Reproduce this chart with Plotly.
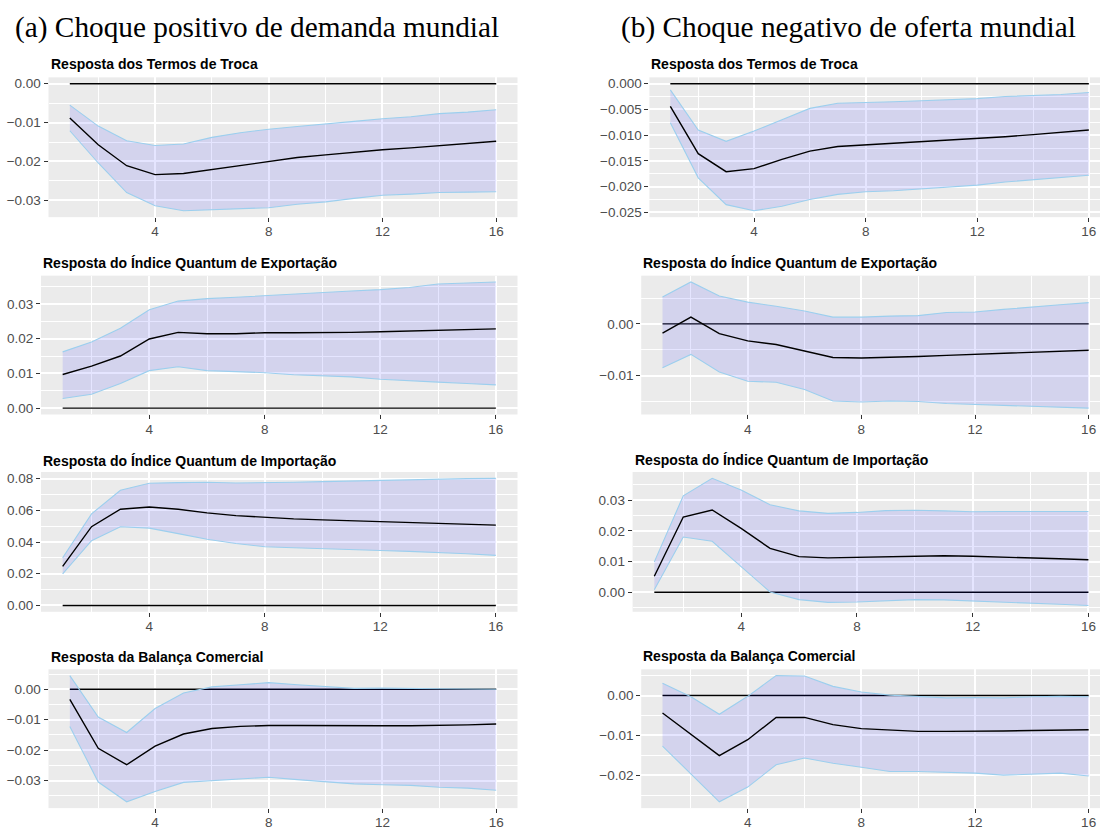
import plotly.graph_objects as go

horizon = list(range(1, 17))

# ---------------- (a) Choque positivo de demanda mundial ----------------
a_tt_mean = [-0.0088, -0.0157, -0.0211, -0.0234, -0.0231, -0.0221, -0.0211, -0.0200,
             -0.0190, -0.0183, -0.0176, -0.0170, -0.0165, -0.0159, -0.0154, -0.0148]
a_tt_upper = [-0.0055, -0.0109, -0.0147, -0.0159, -0.0155, -0.0138, -0.0126, -0.0117,
              -0.0110, -0.0104, -0.0097, -0.0090, -0.0085, -0.0077, -0.0073, -0.0067]
a_tt_lower = [-0.0121, -0.0204, -0.0280, -0.0314, -0.0327, -0.0324, -0.0322, -0.0319,
              -0.0310, -0.0304, -0.0295, -0.0287, -0.0284, -0.0280, -0.0279, -0.0278]

a_ex_mean = [0.0097, 0.0121, 0.0150, 0.0199, 0.0218, 0.0214, 0.0214, 0.0217,
             0.0217, 0.0217, 0.0218, 0.0220, 0.0222, 0.0224, 0.0225, 0.0228]
a_ex_upper = [0.0162, 0.0190, 0.0230, 0.0283, 0.0308, 0.0315, 0.0319, 0.0324,
              0.0328, 0.0332, 0.0337, 0.0341, 0.0347, 0.0357, 0.0361, 0.0363]
a_ex_lower = [0.0028, 0.0040, 0.0071, 0.0108, 0.0119, 0.0108, 0.0105, 0.0102,
              0.0096, 0.0092, 0.0090, 0.0083, 0.0080, 0.0075, 0.0071, 0.0067]

a_im_mean = [0.0247, 0.0497, 0.0607, 0.0621, 0.0607, 0.0584, 0.0567, 0.0555,
             0.0546, 0.0540, 0.0534, 0.0528, 0.0524, 0.0517, 0.0513, 0.0507]
a_im_upper = [0.0301, 0.0578, 0.0727, 0.0771, 0.0775, 0.0777, 0.0773, 0.0773,
              0.0777, 0.0781, 0.0785, 0.0792, 0.0794, 0.0798, 0.0800, 0.0802]
a_im_lower = [0.0199, 0.0409, 0.0497, 0.0488, 0.0453, 0.0418, 0.0391, 0.0370,
              0.0364, 0.0357, 0.0351, 0.0347, 0.0341, 0.0335, 0.0326, 0.0316]

a_bc_mean = [-0.0033, -0.0194, -0.0248, -0.0187, -0.0147, -0.0129, -0.0122, -0.0119,
             -0.0119, -0.0120, -0.0120, -0.0120, -0.0120, -0.0119, -0.0117, -0.0114]
a_bc_upper = [0.0045, -0.0091, -0.0142, -0.0063, -0.0012, 0.0008, 0.0015, 0.0022,
              0.0015, 0.0010, 0.0003, 0.0004, 0.0004, 0.0002, 0.0001, 0.0000]
a_bc_lower = [-0.0122, -0.0305, -0.0370, -0.0336, -0.0306, -0.0300, -0.0295, -0.0289,
              -0.0297, -0.0305, -0.0311, -0.0314, -0.0316, -0.0322, -0.0325, -0.0332]

# ---------------- (b) Choque negativo de oferta mundial ----------------
b_tt_mean = [-0.0044, -0.0136, -0.0171, -0.0165, -0.0147, -0.0131, -0.0122, -0.0119,
             -0.0116, -0.0113, -0.0110, -0.0107, -0.0103, -0.0099, -0.0095, -0.0090]
b_tt_upper = [-0.0012, -0.0090, -0.0112, -0.0092, -0.0070, -0.0048, -0.0038, -0.0037,
              -0.0035, -0.0033, -0.0031, -0.0029, -0.0025, -0.0023, -0.0021, -0.0017]
b_tt_lower = [-0.0076, -0.0183, -0.0235, -0.0247, -0.0238, -0.0225, -0.0215, -0.0210,
              -0.0208, -0.0204, -0.0201, -0.0197, -0.0191, -0.0187, -0.0183, -0.0178]

b_ex_mean = [-0.0018, 0.0013, -0.0019, -0.0033, -0.0040, -0.0053, -0.0065, -0.0066,
             -0.0065, -0.0063, -0.0061, -0.0059, -0.0058, -0.0056, -0.0054, -0.0051]
b_ex_upper = [0.0052, 0.0081, 0.0054, 0.0042, 0.0034, 0.0025, 0.0013, 0.0013,
              0.0015, 0.0016, 0.0022, 0.0023, 0.0028, 0.0033, 0.0037, 0.0041]
b_ex_lower = [-0.0085, -0.0059, -0.0093, -0.0111, -0.0113, -0.0127, -0.0149, -0.0151,
              -0.0149, -0.0150, -0.0154, -0.0156, -0.0158, -0.0159, -0.0161, -0.0163]

b_im_mean = [0.0052, 0.0245, 0.0268, 0.0208, 0.0143, 0.0116, 0.0112, 0.0114,
             0.0117, 0.0119, 0.0119, 0.0117, 0.0115, 0.0112, 0.0109, 0.0106]
b_im_upper = [0.0099, 0.0314, 0.0371, 0.0333, 0.0285, 0.0265, 0.0257, 0.0260,
              0.0266, 0.0267, 0.0265, 0.0262, 0.0263, 0.0263, 0.0263, 0.0263]
b_im_lower = [0.0008, 0.0180, 0.0166, 0.0082, 0.0001, -0.0024, -0.0033, -0.0032,
              -0.0029, -0.0024, -0.0025, -0.0028, -0.0031, -0.0035, -0.0039, -0.0043]

b_bc_mean = [-0.0044, -0.0097, -0.0151, -0.0111, -0.0055, -0.0055, -0.0073, -0.0083,
             -0.0087, -0.0090, -0.0090, -0.0090, -0.0089, -0.0088, -0.0087, -0.0086]
b_bc_upper = [0.0031, -0.0003, -0.0047, -0.0002, 0.0050, 0.0049, 0.0023, 0.0009,
              0.0001, -0.0003, -0.0006, -0.0005, -0.0006, -0.0003, -0.0002, -0.0003]
b_bc_lower = [-0.0127, -0.0197, -0.0267, -0.0230, -0.0174, -0.0157, -0.0170, -0.0180,
              -0.0191, -0.0191, -0.0193, -0.0195, -0.0200, -0.0197, -0.0195, -0.0202]

titles = ["Resposta dos Termos de Troca",
          "Resposta do Índice Quantum de Exportação",
          "Resposta do Índice Quantum de Importação",
          "Resposta da Balança Comercial"]
headers = ["(a) Choque positivo de demanda mundial",
           "(b) Choque negativo de oferta mundial"]

# panel specs: (mean, upper, lower, title, ytick step, ytick format)
panels = [
    (a_tt_mean, a_tt_upper, a_tt_lower, titles[0], 0.01, ".2f"),
    (b_tt_mean, b_tt_upper, b_tt_lower, titles[0], 0.005, ".3f"),
    (a_ex_mean, a_ex_upper, a_ex_lower, titles[1], 0.01, ".2f"),
    (b_ex_mean, b_ex_upper, b_ex_lower, titles[1], 0.01, ".2f"),
    (a_im_mean, a_im_upper, a_im_lower, titles[2], 0.02, ".2f"),
    (b_im_mean, b_im_upper, b_im_lower, titles[2], 0.01, ".2f"),
    (a_bc_mean, a_bc_upper, a_bc_lower, titles[3], 0.01, ".2f"),
    (b_bc_mean, b_bc_upper, b_bc_lower, titles[3], 0.01, ".2f"),
]

W, H = 1100, 830
# pixel boxes of the plotting panels (left, right, top, bottom)
boxes = [
    (48.5, 517.5, 77, 218), (649.4, 1100, 77, 218),
    (41.0, 517.5, 277, 417), (641.2, 1100, 277, 417),
    (41.0, 517.5, 475, 616), (632.6, 1100, 475, 616),
    (48.5, 517.5, 674, 814), (641.2, 1100, 674, 814),
]
title_y = [64, 64, 264, 264, 464, 463, 662, 661]
x_ranges = [(0.25, 16.75), (0.25, 16.40)] * 4

fig = go.Figure()
layout = dict(width=W, height=H, margin=dict(l=0, r=0, t=0, b=0),
              paper_bgcolor="white", plot_bgcolor="#EBEBEB", showlegend=False,
              annotations=[])

tickfont = dict(family="Liberation Sans, Arial, sans-serif", size=13.5, color="#4D4D4D")

for i, (mean, up, lo, title, step, fmt) in enumerate(panels):
    k = "" if i == 0 else str(i + 1)
    xa, ya = "x" + k, "y" + k
    l, r, t, b = boxes[i]
    zeros = [0.0] * len(horizon)
    fig.add_trace(go.Scatter(x=horizon, y=zeros, mode="lines", xaxis=xa, yaxis=ya,
                             line=dict(color="black", width=1.4), hoverinfo="skip"))
    fig.add_trace(go.Scatter(x=horizon, y=up, mode="lines", xaxis=xa, yaxis=ya,
                             line=dict(color="#9CCFEE", width=1.1), hoverinfo="skip"))
    fig.add_trace(go.Scatter(x=horizon, y=lo, mode="lines", xaxis=xa, yaxis=ya,
                             fill="tonexty", fillcolor="rgba(0,0,255,0.1)",
                             line=dict(color="#9CCFEE", width=1.1), hoverinfo="skip"))
    fig.add_trace(go.Scatter(x=horizon, y=mean, mode="lines", xaxis=xa, yaxis=ya,
                             line=dict(color="black", width=1.4), hoverinfo="skip"))

    ymin = min(min(lo), min(mean), 0.0)
    ymax = max(max(up), max(mean), 0.0)
    pad = 0.05 * (ymax - ymin)

    layout["xaxis" + k] = dict(
        domain=[l / W, r / W], anchor=ya, range=list(x_ranges[i]),
        tickmode="linear", tick0=0, dtick=4,
        showgrid=True, gridcolor="white", gridwidth=1.5,
        minor=dict(tickmode="linear", tick0=0, dtick=2, showgrid=True,
                   gridcolor="white", gridwidth=0.7, ticks=""),
        ticks="outside", ticklen=4, tickcolor="#333333", tickwidth=1,
        ticklabelstandoff=-2,
        tickfont=tickfont, zeroline=False, showline=False, fixedrange=True)
    layout["yaxis" + k] = dict(
        domain=[1 - b / H, 1 - t / H], anchor=xa, range=[ymin - pad, ymax + pad],
        tickmode="linear", tick0=0, dtick=step, tickformat=fmt,
        showgrid=True, gridcolor="white", gridwidth=1.5,
        minor=dict(tickmode="linear", tick0=step / 2, dtick=step, showgrid=True,
                   gridcolor="white", gridwidth=0.7, ticks=""),
        ticks="outside", ticklen=4, tickcolor="#333333", tickwidth=1,
        tickfont=tickfont, zeroline=False, showline=False, fixedrange=True)
    layout["annotations"].append(dict(
        text="<b>" + title + "</b>", xref="paper", yref="paper",
        x=l / W, y=1 - title_y[i] / H, xanchor="left", yanchor="middle",
        showarrow=False, font=dict(family="Liberation Sans, Arial, sans-serif",
                                   size=14, color="black")))

for j, hx in enumerate([13, 619]):
    layout["annotations"].append(dict(
        text=headers[j], xref="paper", yref="paper", x=hx / W, y=1 - 27 / H,
        xanchor="left", yanchor="middle", showarrow=False,
        font=dict(family="Liberation Serif, DejaVu Serif, serif", size=29.3, color="black")))

fig.update_layout(**layout)
fig.write_html("out.html", config={"displayModeBar": False},
               post_script="document.body.style.margin='0px';"
                           "document.body.style.overflow='hidden';")
